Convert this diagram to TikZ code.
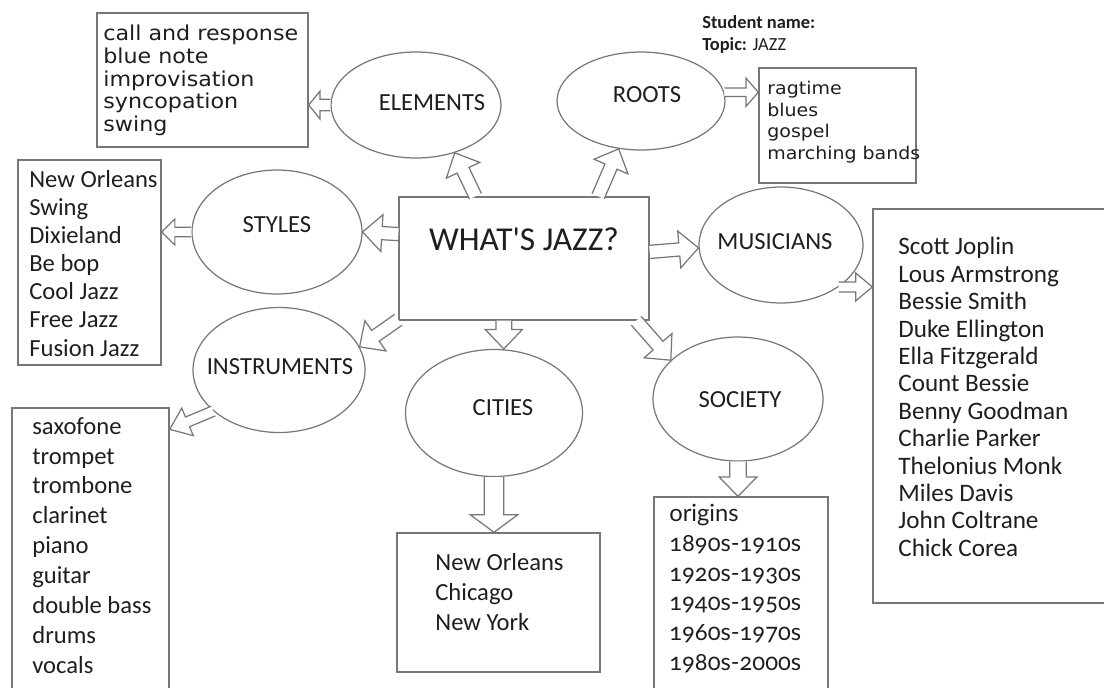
\documentclass[tikz,border=0pt]{standalone}
\usepackage{fontspec}
\setmainfont{Carlito}
\newfontfamily\listsans{DejaVu Sans}[FakeStretch=1.08]
\newfontfamily\oldnums{Lato}[Numbers=OldStyle]
\usetikzlibrary{calc, shapes.geometric}

\definecolor{inkgray}{HTML}{1E1E1E}
\definecolor{edgegray}{HTML}{777777}

\tikzset{
    bubble/.style={ellipse, draw=edgegray, line width=0.7pt},
    listbox/.style={rectangle, draw=edgegray, line width=0.8pt},
    bubbletext/.style={font=\fontsize{14}{16}\selectfont, text=inkgray, inner sep=0pt},
    listtext/.style={anchor=north west, align=left, inner sep=0pt, text=inkgray},
    hollow/.style n args={3}{draw=edgegray, fill=white, line width=0.7pt,
        to path={
            let \p1=(\tikztostart), \p2=(\tikztotarget),
                \n1={atan2(\y2-\y1,\x2-\x1)}, \n2={veclen(\x2-\x1,\y2-\y1)} in
            {[shift={(\p1)}, rotate=\n1]
              (0pt,{#1/2}) -- ({\n2-#3},{#1/2}) -- ({\n2-#3},{#2/2}) -- ({\n2+0pt},0pt)
              -- ({\n2-#3},{-#2/2}) -- ({\n2-#3},{-#1/2}) -- (0pt,{-#1/2})}
        }},
    bigarrow/.style={hollow={7.5pt}{21pt}{11pt}},
    smallarrow/.style={hollow={5.5pt}{15pt}{7.5pt}}
}

\begin{document}
\begin{tikzpicture}[x=0.02cm, y=-0.02cm]
    \useasboundingbox (0,0) rectangle (1104,687);
    \clip (0,0) rectangle (1104,687);

    % Centre
    \node [listbox, minimum width=5cm, minimum height=2.46cm] (hub) at (524,258.5) {};
    \node [text=inkgray, font=\fontsize{19}{22}\selectfont, inner sep=0pt] (title) at (524,239) {WHAT\textquotesingle S JAZZ?};

    % Bubbles
    \node [bubble, minimum width=3.4cm, minimum height=2.12cm] (elements) at (416,105) {};
    \node [bubble, minimum width=3.36cm, minimum height=1.96cm] (roots) at (641,101) {};
    \node [bubble, minimum width=3.4cm, minimum height=2.48cm] (styles) at (277,232) {};
    \node [bubble, minimum width=3.28cm, minimum height=2.32cm] (musicians) at (781,245) {};
    \node [bubble, minimum width=3.44cm, minimum height=2.5cm] (instruments) at (279,370) {};
    \node [bubble, minimum width=3.54cm, minimum height=2.54cm] (cities) at (494,413) {};
    \node [bubble, minimum width=3.4cm, minimum height=2.48cm] (society) at (738,399) {};

    \node [bubbletext] (elementslabel) at (432,103) {ELEMENTS};
    \node [bubbletext] (rootslabel) at (647,95) {ROOTS};
    \node [bubbletext] (styleslabel) at (277,225) {STYLES};
    \node [bubbletext] (musicianslabel) at (775,242) {MUSICIANS};
    \node [bubbletext] (instrumentslabel) at (280,367) {INSTRUMENTS};
    \node [bubbletext] (citieslabel) at (503,408) {CITIES};
    \node [bubbletext] (societylabel) at (740,400) {SOCIETY};

    % Lists
    \node [listbox, minimum width=4.22cm, minimum height=2.68cm] (elemlist) at (202.5,80) {};
    \node [listtext, font=\listsans\fontsize{11.7}{12.9}\selectfont] (elemtext) at (103,25)
        {call and response\\blue note\\improvisation\\syncopation\\swing};

    \node [listbox, minimum width=3.14cm, minimum height=2.3cm] (rootlist) at (837.5,125.5) {};
    \node [listtext, font=\listsans\fontsize{10}{12.3}\selectfont] (roottext) at (767,81)
        {ragtime\\blues\\gospel\\marching bands};

    \node [listbox, minimum width=2.86cm, minimum height=4.1cm] (stylelist) at (89.5,262.5) {};
    \node [listtext, font=\fontsize{14}{16}\selectfont] (styletext) at (29,170)
        {New Orleans\\Swing\\Dixieland\\Be bop\\Cool Jazz\\Free Jazz\\Fusion Jazz};

    \node [listbox, minimum width=3.14cm, minimum height=5.84cm] (instlist) at (90.5,554) {};
    \node [listtext, font=\fontsize{14}{17}\selectfont] (insttext) at (32,417)
        {saxofone\\trompet\\trombone\\clarinet\\piano\\guitar\\double bass\\drums\\vocals};

    \node [listbox, minimum width=4.06cm, minimum height=2.78cm] (citylist) at (498.5,602.5) {};
    \node [listtext, font=\fontsize{14}{17}\selectfont] (citytext) at (435,553)
        {New Orleans\\Chicago\\New York};

    \node [listbox, minimum width=3.48cm, minimum height=4.06cm] (soclist) at (741,598.5) {};
    \node [listtext, font=\oldnums\fontsize{13.5}{16.9}\selectfont] (soctext) at (669,504)
        {origins\\1890s-1910s\\1920s-1930s\\1940s-1950s\\1960s-1970s\\1980s-2000s};

    \node [listbox, minimum width=5.2cm, minimum height=7.88cm] (muslist) at (1003,406) {};
    \node [listtext, font=\fontsize{14.3}{15.6}\selectfont] (mustext) at (898,237)
        {Scott Joplin\\Lous Armstrong\\Bessie Smith\\Duke Ellington\\Ella Fitzgerald\\Count Bessie\\
         Benny Goodman\\Charlie Parker\\Thelonius Monk\\Miles Davis\\John Coltrane\\Chick Corea};

    % Header
    \node [listtext, font=\fontsize{10.5}{12.5}\selectfont] (student) at (702,15)
        {\textbf{Student name:}\\\textbf{Topic:} JAZZ};

    % Arrows from the centre
    \draw [bigarrow] (hub.128) to (elements.-51);
    \draw [bigarrow] (hub.40) to (roots.-115);
    \draw [bigarrow] (hub.169) to (styles.east);
    \draw [bigarrow] (hub.206) to (instruments.16);
    \draw [bigarrow] (hub.3) to (musicians.182);
    \draw [bigarrow] (hub.-29) to (society.150);
    \draw [hollow={9pt}{21pt}{11pt}] (hub.252) to (hub.252 |- cities.north);

    % Arrows to the lists
    \draw [hollow={6.5pt}{16pt}{6.5pt}] (elements.west) to (elements.west -| elemlist.east);
    \draw [hollow={4.8pt}{16pt}{7pt}] (roots.6) to (roots.6 -| rootlist.west);
    \draw [smallarrow] (styles.west) to (styles.west -| stylelist.east);
    \draw [hollow={5.7pt}{16pt}{9.5pt}] (musicians.-36) to (musicians.-36 -| muslist.west);
    \draw [hollow={6pt}{17pt}{11pt}] (instruments.212) to ([yshift=-0.44cm]instlist.north east);
    \draw [hollow={11pt}{27pt}{10pt}] (cities.south) to (cities.south |- citylist.north);
    \draw [hollow={9.5pt}{21.5pt}{11pt}] (society.south) to (society.south |- soclist.north);
\end{tikzpicture}
\end{document}
